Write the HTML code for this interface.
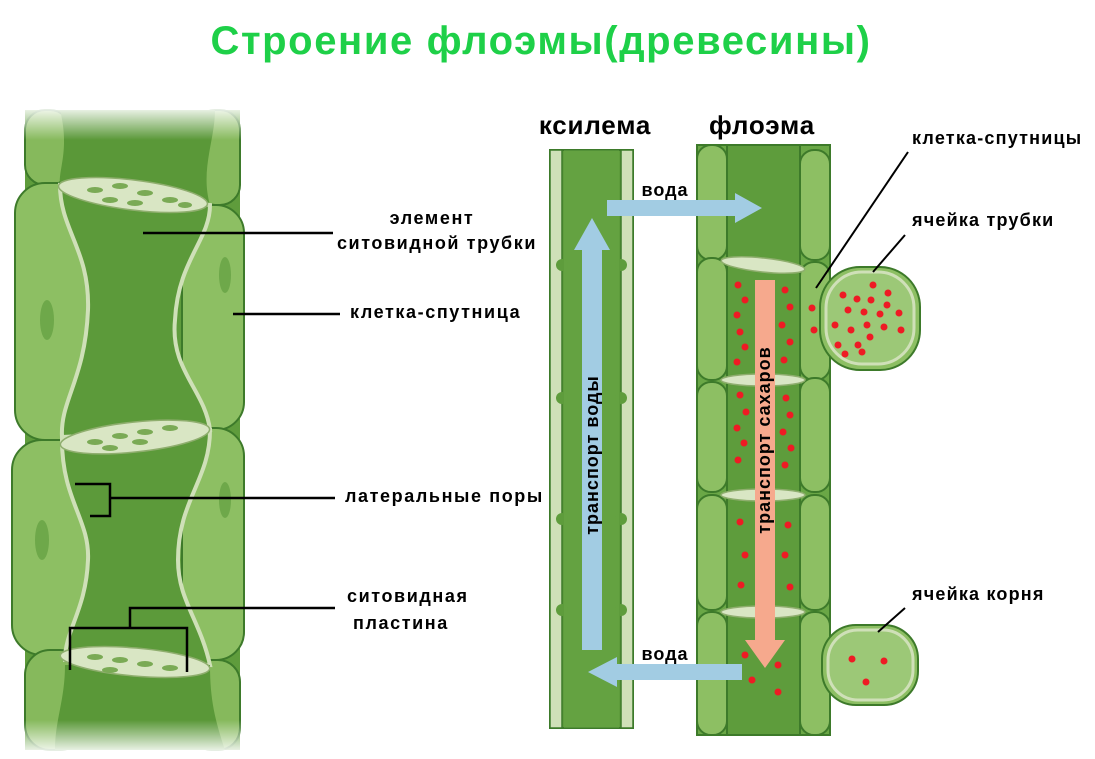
<!DOCTYPE html>
<html><head><meta charset="utf-8"><style>
body{margin:0;background:#fff;width:1095px;height:754px;overflow:hidden;font-family:"Liberation Sans","DejaVu Sans",sans-serif}
</style></head><body>
<svg width="1095" height="754" viewBox="0 0 1095 754" xmlns="http://www.w3.org/2000/svg">
<defs>
<linearGradient id="fade" x1="0" y1="0" x2="0" y2="1"><stop offset="0" stop-color="#fff" stop-opacity="1"/><stop offset="1" stop-color="#fff" stop-opacity="0"/></linearGradient>
<linearGradient id="fadeb" x1="0" y1="0" x2="0" y2="1"><stop offset="0" stop-color="#fff" stop-opacity="0"/><stop offset="1" stop-color="#fff" stop-opacity="1"/></linearGradient>
</defs>
<text x="541" y="54" text-anchor="middle" font-size="40" letter-spacing="1.6" font-weight="bold" fill="#1ed048">Строение флоэмы(древесины)</text>

<!-- LEFT ILLUSTRATION -->
<g stroke="#3d7a2a" stroke-width="2">
<rect x="25" y="110" width="215" height="640" fill="#5f9c3c" stroke="none"/>
<rect x="25" y="110" width="45" height="75" rx="20" fill="#86b95c"/>
<rect x="195" y="110" width="45" height="95" rx="20" fill="#86b95c"/>
<rect x="15" y="183" width="75" height="257" rx="30" fill="#8dbf63"/>
<rect x="182" y="205" width="62" height="225" rx="28" fill="#8dbf63"/>
<rect x="12" y="440" width="78" height="215" rx="30" fill="#8dbf63"/>
<rect x="182" y="428" width="62" height="232" rx="28" fill="#8dbf63"/>
<rect x="25" y="650" width="60" height="100" rx="25" fill="#86b95c"/>
<rect x="190" y="660" width="50" height="90" rx="22" fill="#86b95c"/>
</g>
<g fill="#6ea84a">
<ellipse cx="47" cy="320" rx="7" ry="20"/><ellipse cx="225" cy="275" rx="6" ry="18"/>
<ellipse cx="42" cy="540" rx="7" ry="20"/><ellipse cx="225" cy="500" rx="6" ry="18"/>
</g>
<path d="M60,110 C70,150 58,170 60,185 L210,205 C200,170 215,140 215,110 Z" fill="#5a9838"/>
<path d="M60,185 C60,230 90,250 88,310 C85,380 60,400 62,437 L210,430 C205,390 170,370 175,320 C178,260 210,240 210,205 Z" fill="#5c9a3a" stroke="#cfe0b8" stroke-width="4"/>
<path d="M62,440 C62,500 90,520 88,560 C86,610 65,630 65,660 L210,665 C200,620 178,600 178,560 C178,500 210,480 210,430 Z" fill="#5c9a3a" stroke="#cfe0b8" stroke-width="4"/>
<path d="M65,665 C65,700 55,720 55,750 L225,750 C215,720 210,700 210,665 Z" fill="#5a9838"/>
<g fill="#d9e6c4" stroke="#8fae6e" stroke-width="1.5">
<ellipse cx="133" cy="195" rx="75" ry="15" transform="rotate(7 133 195)"/>
<ellipse cx="135" cy="437" rx="75" ry="15" transform="rotate(-6 135 437)"/>
<ellipse cx="135" cy="662" rx="75" ry="14" transform="rotate(5 135 662)"/>
</g>
<g fill="#7aaa55">
<ellipse cx="95" cy="190" rx="8" ry="3"/><ellipse cx="120" cy="186" rx="8" ry="3"/><ellipse cx="145" cy="193" rx="8" ry="3"/><ellipse cx="170" cy="200" rx="8" ry="3"/><ellipse cx="110" cy="200" rx="8" ry="3"/><ellipse cx="135" cy="203" rx="8" ry="3"/><ellipse cx="185" cy="205" rx="7" ry="3"/>
<ellipse cx="95" cy="442" rx="8" ry="3"/><ellipse cx="120" cy="436" rx="8" ry="3"/><ellipse cx="145" cy="432" rx="8" ry="3"/><ellipse cx="170" cy="428" rx="8" ry="3"/><ellipse cx="110" cy="448" rx="8" ry="3"/><ellipse cx="140" cy="442" rx="8" ry="3"/>
<ellipse cx="95" cy="657" rx="8" ry="3"/><ellipse cx="120" cy="660" rx="8" ry="3"/><ellipse cx="145" cy="664" rx="8" ry="3"/><ellipse cx="170" cy="668" rx="8" ry="3"/><ellipse cx="110" cy="670" rx="8" ry="3"/>
</g>
<rect x="0" y="105" width="260" height="35" fill="url(#fade)"/>
<rect x="0" y="720" width="260" height="35" fill="url(#fadeb)"/>

<g stroke="#000" stroke-width="2.5" fill="none">
<line x1="143" y1="233" x2="333" y2="233"/>
<line x1="233" y1="314" x2="340" y2="314"/>
<polyline points="75,484 110,484 110,516 90,516"/>
<line x1="110" y1="498" x2="335" y2="498"/>
<polyline points="70,670 70,628 187,628 187,672"/>
<polyline points="130,628 130,608 335,608"/>
</g>
<g font-size="18" letter-spacing="1.6" font-weight="bold" fill="#000">
<text x="432" y="224" text-anchor="middle">элемент</text>
<text x="437" y="249" text-anchor="middle">ситовидной трубки</text>
<text x="350" y="318">клетка-спутница</text>
<text x="345" y="502">латеральные поры</text>
<text x="347" y="602">ситовидная</text>
<text x="353" y="629">пластина</text>
</g>

<text x="595" y="134" text-anchor="middle" font-size="26" letter-spacing="0.8" font-weight="bold">ксилема</text>
<text x="762" y="134" text-anchor="middle" font-size="26" letter-spacing="0.8" font-weight="bold">флоэма</text>
<path d="M550,150 L633,150 L633,728 L550,728 Z" fill="#5e9c3c" stroke="#3d7a2a" stroke-width="2"/>
<rect x="550" y="150" width="12" height="578" fill="#cfe0b8" stroke="#3d7a2a" stroke-width="1.5"/>
<rect x="621" y="150" width="12" height="578" fill="#cfe0b8" stroke="#3d7a2a" stroke-width="1.5"/>
<g fill="#5e9c3c"><circle cx="562" cy="265" r="6"/><circle cx="621" cy="265" r="6"/><circle cx="562" cy="398" r="6"/><circle cx="621" cy="398" r="6"/><circle cx="562" cy="519" r="6"/><circle cx="621" cy="519" r="6"/><circle cx="562" cy="610" r="6"/><circle cx="621" cy="610" r="6"/></g>
<rect x="564" y="150" width="55" height="578" fill="#6aa746" opacity="0.5"/>

<g stroke="#3d7a2a" stroke-width="2">
<rect x="697" y="145" width="133" height="590" fill="#6aa746"/>
<rect x="697" y="145" width="30" height="115" rx="14" fill="#8dbf63"/>
<rect x="800" y="150" width="30" height="110" rx="14" fill="#8dbf63"/>
<rect x="697" y="258" width="30" height="122" rx="14" fill="#8dbf63"/>
<rect x="800" y="262" width="30" height="118" rx="14" fill="#8dbf63"/>
<rect x="697" y="382" width="30" height="110" rx="14" fill="#8dbf63"/>
<rect x="800" y="378" width="30" height="114" rx="14" fill="#8dbf63"/>
<rect x="697" y="495" width="30" height="115" rx="14" fill="#8dbf63"/>
<rect x="800" y="495" width="30" height="115" rx="14" fill="#8dbf63"/>
<rect x="697" y="612" width="30" height="123" rx="14" fill="#8dbf63"/>
<rect x="800" y="612" width="30" height="123" rx="14" fill="#8dbf63"/>
<rect x="727" y="145" width="73" height="590" fill="#5e9c3c"/>
</g>
<g fill="#d9e6c4" stroke="#8fae6e" stroke-width="1.5">
<ellipse cx="763" cy="265" rx="42" ry="7" transform="rotate(6 763 265)"/>
<ellipse cx="763" cy="380" rx="42" ry="6"/>
<ellipse cx="763" cy="495" rx="42" ry="6"/>
<ellipse cx="763" cy="612" rx="42" ry="6"/>
</g>
<rect x="820" y="267" width="100" height="103" rx="40" fill="#8dbf63" stroke="#3d7a2a" stroke-width="2"/>
<rect x="826" y="272" width="88" height="92" rx="36" fill="#9cc877" stroke="#cfe0b8" stroke-width="3"/>
<rect x="822" y="625" width="96" height="80" rx="34" fill="#8dbf63" stroke="#3d7a2a" stroke-width="2"/>
<rect x="828" y="630" width="85" height="70" rx="30" fill="#9cc877" stroke="#cfe0b8" stroke-width="3"/>
<g fill="#ee1b24">
<circle cx="843" cy="295" r="3.5"/><circle cx="857" cy="299" r="3.5"/><circle cx="873" cy="285" r="3.5"/><circle cx="888" cy="293" r="3.5"/><circle cx="871" cy="300" r="3.5"/><circle cx="887" cy="305" r="3.5"/><circle cx="848" cy="310" r="3.5"/><circle cx="864" cy="312" r="3.5"/><circle cx="880" cy="314" r="3.5"/><circle cx="899" cy="313" r="3.5"/><circle cx="835" cy="325" r="3.5"/><circle cx="851" cy="330" r="3.5"/><circle cx="867" cy="325" r="3.5"/><circle cx="884" cy="327" r="3.5"/><circle cx="901" cy="330" r="3.5"/><circle cx="838" cy="345" r="3.5"/><circle cx="858" cy="345" r="3.5"/><circle cx="870" cy="337" r="3.5"/><circle cx="845" cy="354" r="3.5"/><circle cx="862" cy="352" r="3.5"/>
<circle cx="852" cy="659" r="3.5"/><circle cx="884" cy="661" r="3.5"/><circle cx="866" cy="682" r="3.5"/>
<circle cx="738" cy="285" r="3.5"/><circle cx="745" cy="300" r="3.5"/><circle cx="737" cy="315" r="3.5"/><circle cx="740" cy="332" r="3.5"/><circle cx="745" cy="347" r="3.5"/><circle cx="737" cy="362" r="3.5"/><circle cx="785" cy="290" r="3.5"/><circle cx="790" cy="307" r="3.5"/><circle cx="782" cy="325" r="3.5"/><circle cx="790" cy="342" r="3.5"/><circle cx="784" cy="360" r="3.5"/><circle cx="812" cy="308" r="3.5"/><circle cx="814" cy="330" r="3.5"/>
<circle cx="740" cy="395" r="3.5"/><circle cx="746" cy="412" r="3.5"/><circle cx="737" cy="428" r="3.5"/><circle cx="744" cy="443" r="3.5"/><circle cx="738" cy="460" r="3.5"/><circle cx="786" cy="398" r="3.5"/><circle cx="790" cy="415" r="3.5"/><circle cx="783" cy="432" r="3.5"/><circle cx="791" cy="448" r="3.5"/><circle cx="785" cy="465" r="3.5"/>
<circle cx="740" cy="522" r="3.5"/><circle cx="745" cy="555" r="3.5"/><circle cx="741" cy="585" r="3.5"/><circle cx="788" cy="525" r="3.5"/><circle cx="785" cy="555" r="3.5"/><circle cx="790" cy="587" r="3.5"/>
<circle cx="745" cy="655" r="3.5"/><circle cx="752" cy="680" r="3.5"/><circle cx="778" cy="665" r="3.5"/><circle cx="778" cy="692" r="3.5"/>
</g>

<polygon points="582,650 602,650 602,250 610,250 592,218 574,250 582,250" fill="#a2cce3"/>
<polygon points="755,280 775,280 775,640 785,640 765,668 745,640 755,640" fill="#f6a98d"/>
<polygon points="607,200 735,200 735,193 762,208 735,223 735,216 607,216" fill="#a2cce3"/>
<polygon points="742,664 617,664 617,657 588,672 617,687 617,680 742,680" fill="#a2cce3"/>
<text x="665" y="196" text-anchor="middle" font-size="18" letter-spacing="1" font-weight="bold">вода</text>
<text x="665" y="660" text-anchor="middle" font-size="18" letter-spacing="1" font-weight="bold">вода</text>
<text transform="translate(598,455) rotate(-90)" text-anchor="middle" font-size="18" letter-spacing="1" font-weight="bold">транспорт воды</text>
<text transform="translate(770,440) rotate(-90)" text-anchor="middle" font-size="18" letter-spacing="1" font-weight="bold">транспорт сахаров</text>

<g stroke="#000" stroke-width="2" fill="none">
<line x1="816" y1="288" x2="908" y2="152"/>
<line x1="873" y1="272" x2="905" y2="235"/>
<line x1="878" y1="632" x2="905" y2="608"/>
</g>
<g font-size="18" letter-spacing="1.2" font-weight="bold">
<text x="912" y="144">клетка-спутницы</text>
<text x="912" y="226">ячейка трубки</text>
<text x="912" y="600">ячейка корня</text>
</g>
</svg>
</body></html>
